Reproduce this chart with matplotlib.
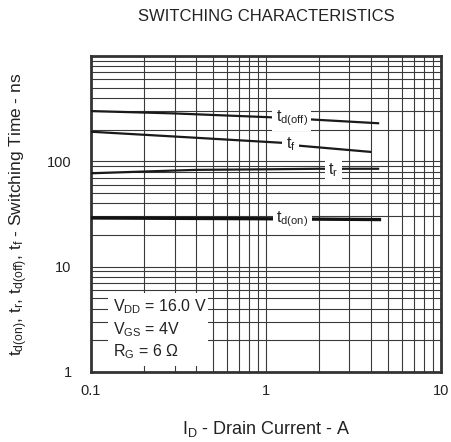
import matplotlib.pyplot as plt
from matplotlib.ticker import LogLocator, NullFormatter, FixedLocator, FixedFormatter
from matplotlib.patches import Rectangle

plt.rcParams['font.family'] = ['Liberation Sans', 'DejaVu Sans']
plt.rcParams['mathtext.default'] = 'regular'

# Data (ID in A, times in ns)
x_off = [0.1, 0.3, 1.06, 1.79, 4.37]
td_off = [300, 285, 262, 250, 230]

x_f = [0.1, 0.3, 1.23, 1.53, 3.94]
t_f = [191, 172, 150, 141, 123]

x_r = [0.1, 0.2, 0.4, 1.0, 2.0, 4.37]
t_r = [77, 80, 83, 84, 85, 85]

x_on = [0.1, 1.0, 4.45]
td_on = [29, 28.5, 28]

x_ticks = [0.1, 1, 10]
x_ticklabels = ['0.1', '1', '10']
y_ticks = [1, 10, 100]
y_ticklabels = ['1', '10', '100']

fig = plt.figure(figsize=(4.51, 4.42), dpi=100)
ax = fig.add_axes([0.2018, 0.1584, 0.776, 0.7149])
ax.set_xscale('log')
ax.set_yscale('log')
ax.set_xlim(0.1, 10)
ax.set_ylim(1, 1000)

# grid
ax.xaxis.set_minor_locator(LogLocator(base=10, subs=range(2, 10)))
ax.yaxis.set_minor_locator(LogLocator(base=10, subs=range(2, 10)))
ax.xaxis.set_minor_formatter(NullFormatter())
ax.yaxis.set_minor_formatter(NullFormatter())
ax.grid(True, which='both', color='#3a3a3a', linewidth=0.8)
ax.set_axisbelow(True)

ax.xaxis.set_major_locator(FixedLocator(x_ticks))
ax.xaxis.set_major_formatter(FixedFormatter(x_ticklabels))
ax.yaxis.set_major_locator(FixedLocator(y_ticks))
ax.yaxis.set_major_formatter(FixedFormatter(y_ticklabels))
ax.tick_params(which='both', length=0, labelsize=10.5, colors='#222')
ax.tick_params(axis='x', pad=9)
ax.tick_params(axis='y', pad=14)

for s in ax.spines.values():
    s.set_linewidth(2)
    s.set_color('#333')

# curves
ax.plot(x_off, td_off, color='#1a1a1a', lw=1.6, zorder=3)
ax.plot(x_f, t_f, color='#1a1a1a', lw=1.6, zorder=3)
ax.plot(x_r, t_r, color='#1a1a1a', lw=1.6, zorder=3)
ax.plot(x_on, td_on, color='#111', lw=2.4, zorder=3)

box = dict(facecolor='white', edgecolor='none', pad=2.5)
ax.text(1.4, 258, r'$t_{d(off)}$', fontsize=11.5, ha='center', va='center', bbox=box, zorder=4, color='#222')
ax.text(1.38, 146, r'$t_f$', fontsize=11.5, ha='center', va='center', bbox=box, zorder=4, color='#222')
ax.text(2.43, 83, r'$t_r$', fontsize=11.5, ha='center', va='center', bbox=box, zorder=4, color='#222')
ax.text(1.41, 28.4, r'$t_{d(on)}$', fontsize=11.5, ha='center', va='center', bbox=box, zorder=4, color='#222')

# conditions box
ax.add_patch(Rectangle((0.049, 0.019), 0.285, 0.231, transform=ax.transAxes,
                       facecolor='white', edgecolor='none', zorder=4))
ax.text(0.064, 0.207, r'$V_{DD}$ = 16.0 V', transform=ax.transAxes, fontsize=11.5, va='center', zorder=5, color='#222')
ax.text(0.064, 0.133, r'$V_{GS}$ = 4V', transform=ax.transAxes, fontsize=11.5, va='center', zorder=5, color='#222')
ax.text(0.064, 0.063, r'$R_G$ = 6 Ω', transform=ax.transAxes, fontsize=11.5, va='center', zorder=5, color='#222')

ax.set_title('SWITCHING CHARACTERISTICS', fontsize=12, pad=25, color='#222')
ax.set_xlabel(r'$I_D$ - Drain Current - A', fontsize=13, labelpad=15, color='#222')
ax.set_ylabel(r'$t_{d(on)}$, $t_r$, $t_{d(off)}$, $t_f$ - Switching Time - ns', fontsize=12.5, labelpad=12, color='#222')

plt.savefig('out.png', dpi=100)
